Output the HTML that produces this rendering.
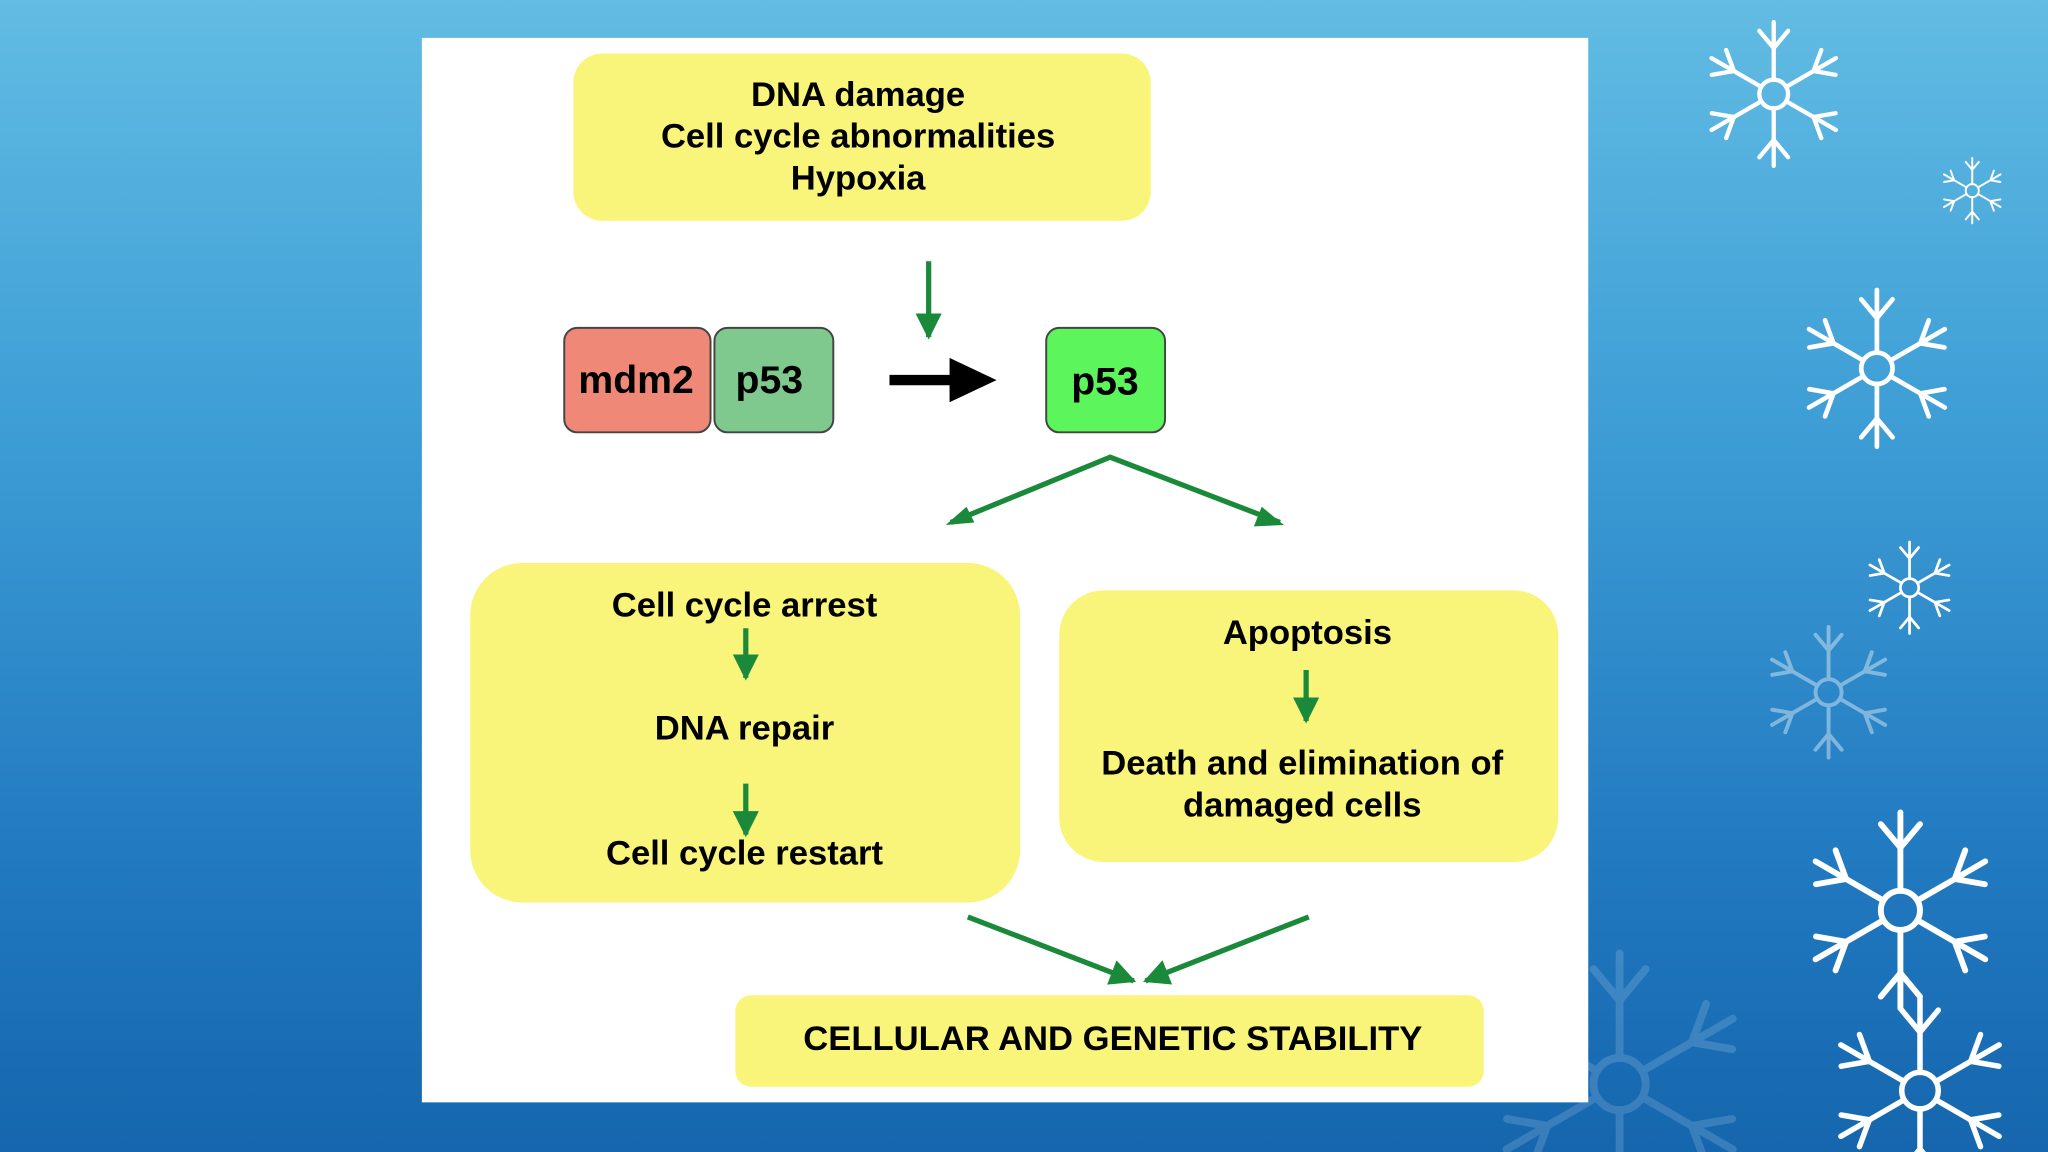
<!DOCTYPE html>
<html><head><meta charset="utf-8"><style>
html,body{margin:0;padding:0;width:2048px;height:1152px;overflow:hidden}
body{background:linear-gradient(180deg,#62bce3 0%,#3f9fd6 35%,#2179c0 75%,#1566ad 100%)}
svg{display:block}
text{font-family:"Liberation Sans",Arial,sans-serif;font-weight:bold;fill:#000;text-anchor:middle}
</style></head><body>
<svg width="2048" height="1152" viewBox="0 0 1568 882" xmlns="http://www.w3.org/2000/svg">
<defs>
<marker id="g" viewBox="0 0 10 10" refX="9" refY="5" markerWidth="5" markerHeight="5" orient="auto"><path d="M0,0 L10,5 L0,10 z" fill="#1a8a3a"/></marker>
<g id="flake" stroke="#fff" stroke-width="3" fill="none" stroke-linecap="round">
<circle r="10"/>
<g id="arm"><line x1="0" y1="-10" x2="0" y2="-50"/><line x1="0" y1="-32" x2="-10" y2="-44"/><line x1="0" y1="-32" x2="10" y2="-44"/></g>
<use href="#arm" transform="rotate(60)"/><use href="#arm" transform="rotate(120)"/><use href="#arm" transform="rotate(180)"/><use href="#arm" transform="rotate(240)"/><use href="#arm" transform="rotate(300)"/>
</g>
</defs>
<use href="#flake" transform="translate(1358,72) scale(1.1)"/>
<use href="#flake" transform="translate(1510,146) scale(0.5)"/>
<use href="#flake" transform="translate(1437,282) scale(1.2)"/>
<use href="#flake" transform="translate(1462,450) scale(0.7)"/>
<use href="#flake" transform="translate(1400,530) scale(1)" opacity="0.4"/>
<use href="#flake" transform="translate(1455,697) scale(1.5)"/>
<use href="#flake" transform="translate(1470,835) scale(1.4)"/>
<use href="#flake" transform="translate(1240,830) scale(2)" opacity="0.15"/>
<rect x="323" y="29" width="893" height="815" fill="#fff"/>
<rect x="439" y="41" width="442" height="128" rx="22" fill="#f9f57a"/>
<text x="657" y="81" font-size="26.5">DNA damage</text>
<text x="657" y="113" font-size="26.5">Cell cycle abnormalities</text>
<text x="657" y="145" font-size="26.5">Hypoxia</text>
<line x1="711" y1="200" x2="711" y2="258" stroke="#1a8a3a" stroke-width="4" marker-end="url(#g)"/>
<rect x="432" y="251" width="112" height="80" rx="10" fill="#f08878" stroke="#444" stroke-width="1.5"/>
<rect x="547" y="251" width="91" height="80" rx="10" fill="#7fc98f" stroke="#444" stroke-width="1.5"/>
<text x="487" y="301" font-size="30">mdm2</text>
<text x="589" y="301" font-size="30">p53</text>
<line x1="681" y1="291" x2="730" y2="291" stroke="#000" stroke-width="8"/>
<path d="M727,274 L763,291 L727,308 z" fill="#000"/>
<rect x="801" y="251" width="91" height="80" rx="10" fill="#5cf55c" stroke="#444" stroke-width="1.5"/>
<text x="846" y="302" font-size="30">p53</text>
<polyline points="728,400 850,350 980,400" fill="none" stroke="#1a8a3a" stroke-width="4"/>
<path d="M724,402 L740,388 L746,400 z" fill="#1a8a3a"/>
<path d="M983,402 L960,403 L966,388 z" fill="#1a8a3a"/>
<rect x="360" y="431" width="421" height="260" rx="40" fill="#f9f57a"/>
<text x="570" y="472" font-size="26.5">Cell cycle arrest</text>
<line x1="571" y1="481" x2="571" y2="519" stroke="#1a8a3a" stroke-width="4" marker-end="url(#g)"/>
<text x="570" y="566" font-size="26.5">DNA repair</text>
<line x1="571" y1="600" x2="571" y2="639" stroke="#1a8a3a" stroke-width="4" marker-end="url(#g)"/>
<text x="570" y="662" font-size="26.5">Cell cycle restart</text>
<rect x="811" y="452" width="382" height="208" rx="34" fill="#f9f57a"/>
<text x="1001" y="493" font-size="26.5">Apoptosis</text>
<line x1="1000" y1="513" x2="1000" y2="552" stroke="#1a8a3a" stroke-width="4" marker-end="url(#g)"/>
<text x="997" y="593" font-size="26.5">Death and elimination of</text>
<text x="997" y="625" font-size="26.5">damaged cells</text>
<line x1="741" y1="702" x2="868" y2="751" stroke="#1a8a3a" stroke-width="4" marker-end="url(#g)"/>
<line x1="1002" y1="702" x2="877" y2="751" stroke="#1a8a3a" stroke-width="4" marker-end="url(#g)"/>
<rect x="563" y="762" width="573" height="70" rx="12" fill="#f9f57a"/>
<text x="852" y="804" font-size="26.5">CELLULAR AND GENETIC STABILITY</text>
</svg>
</body></html>
